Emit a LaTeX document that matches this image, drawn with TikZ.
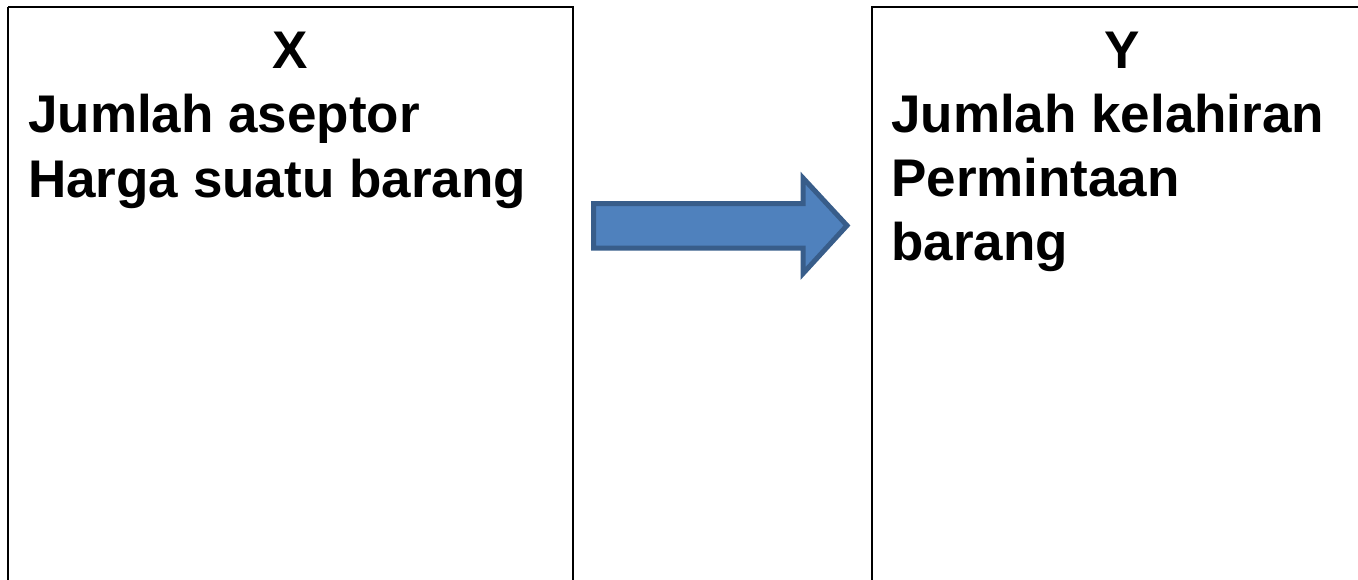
\documentclass[tikz,border=0pt]{standalone}
\usepackage{fontspec}
\setmainfont{Liberation Sans}
\definecolor{arrowfill}{HTML}{4F81BD}
\definecolor{arrowline}{HTML}{385D8A}
\begin{document}
\begin{tikzpicture}[x=1pt,y=-1pt,
  panel/.style={draw=black,line width=2.6pt},
  bigtext/.style={inner sep=0pt,font=\bfseries\fontsize{53}{64.5}\selectfont},
  heading/.style={bigtext,anchor=base},
  itemtext/.style={bigtext,anchor=base west},
  blockarrow/.style={fill=arrowfill,draw=arrowline,line width=5pt,line join=miter}]
\useasboundingbox (0,0) rectangle (1358,579);
\clip (0,0) rectangle (1358,579);
% the two panels, running past the lower (and right) edge
\draw[panel] (8,7) -- (573,7) -- (573,600);
\draw[panel] (8,600) -- (8,7);
\draw[panel] (872,600) -- (872,7) -- (1400,7);
% left panel: heading and variables
\node[heading] (hx) at (290.5,68) {X};
\node[itemtext] (lx1) at (28,132) {Jumlah aseptor};
\node[itemtext] (lx2) at (28,197) {Harga suatu barang};
% right panel: heading and variables
\node[heading] (hy) at (1122,68) {Y};
\node[itemtext] (ly1) at (891,132) {Jumlah kelahiran};
\node[itemtext] (ly2) at (891,196) {Permintaan};
\node[itemtext] (ly3) at (891,260) {barang};
% block arrow from X to Y
\draw[blockarrow] (593.5,203.5) -- (803,203.5) -- (803,178) -- (847,225.5)
  -- (803,273.5) -- (803,248) -- (593.5,248) -- cycle;
\end{tikzpicture}
\end{document}
